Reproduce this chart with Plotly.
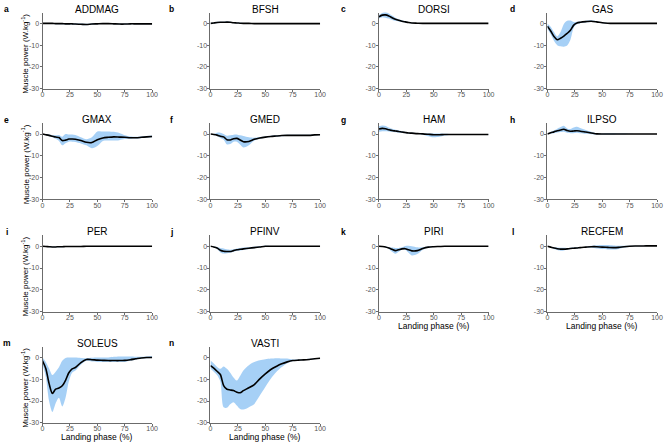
import plotly.graph_objects as go

# ---------------- data ----------------
phase = [0, 3, 6, 9, 12, 15, 18, 21, 24, 27, 30, 35, 40, 45, 50, 55, 60, 65, 70, 75, 80, 85, 90, 95, 100]

muscles = ["ADDMAG", "BFSH", "DORSI", "GAS", "GMAX", "GMED", "HAM", "ILPSO",
           "PER", "PFINV", "PIRI", "RECFEM", "SOLEUS", "VASTI"]
letters = ["a", "b", "c", "d", "e", "f", "g", "h", "i", "j", "k", "l", "m", "n"]

x_ticks = [0, 25, 50, 75, 100]
y_ticks = [0, -10, -20, -30]
y_ticklabels = ["0", "-10", "-20", "-30"]

ADDMAG_mean = [0, 0, 0, 0, -0.1, -0.1, -0.1, -0.2, -0.2, -0.2, -0.3, -0.4, -0.5, -0.3, -0.2, -0.1, -0.1, -0.2, -0.3, -0.3, -0.2, -0.2, -0.2, -0.2, -0.2]
ADDMAG_lo = [-0.2, -0.2, -0.2, -0.3, -0.4, -0.4, -0.4, -0.5, -0.5, -0.5, -0.6, -0.7, -0.8, -0.6, -0.4, -0.3, -0.3, -0.4, -0.5, -0.5, -0.4, -0.4, -0.4, -0.4, -0.4]
ADDMAG_hi = [0.2, 0.2, 0.2, 0.2, 0.2, 0.2, 0.2, 0.1, 0.1, 0.1, 0, -0.1, -0.2, 0, 0, 0.1, 0.1, 0, -0.1, -0.1, 0, 0, 0, 0, 0]

BFSH_mean = [0, 0.2, 0.4, 0.5, 0.5, 0.6, 0.5, 0.3, 0.2, 0.1, 0, 0, -0.1, -0.1, -0.1, -0.1, -0.1, -0.1, -0.1, -0.1, -0.1, -0.1, -0.1, -0.1, -0.1]
BFSH_lo = [-0.2, 0, 0.1, 0.2, 0.2, 0.3, 0.2, 0.1, 0, -0.1, -0.2, -0.2, -0.3, -0.3, -0.3, -0.3, -0.3, -0.3, -0.3, -0.3, -0.3, -0.3, -0.3, -0.3, -0.3]
BFSH_hi = [0.2, 0.4, 0.7, 0.8, 0.8, 0.9, 0.8, 0.6, 0.4, 0.3, 0.2, 0.2, 0.1, 0.1, 0.1, 0.1, 0.1, 0.1, 0.1, 0.1, 0.1, 0.1, 0.1, 0.1, 0.1]

DORSI_mean = [3.0, 3.8, 3.9, 3.4, 2.6, 1.9, 1.4, 1.0, 0.7, 0.4, 0.2, 0.1, 0, 0, 0, 0, 0, 0, 0, 0, 0, 0, 0, 0, 0]
DORSI_lo = [2.2, 2.8, 2.6, 2.2, 1.6, 1.2, 0.9, 0.6, 0.4, 0.2, 0.1, 0, -0.1, -0.1, -0.1, -0.1, -0.1, -0.1, -0.1, -0.1, -0.1, -0.1, -0.1, -0.1, -0.1]
DORSI_hi = [3.8, 4.8, 5.2, 4.6, 3.6, 2.6, 1.9, 1.4, 1.0, 0.6, 0.3, 0.2, 0.1, 0.1, 0.1, 0.1, 0.1, 0.1, 0.1, 0.1, 0.1, 0.1, 0.1, 0.1, 0.1]

GAS_mean = [-1.3, -3.5, -6.0, -7.5, -6.8, -5.8, -4.6, -3.2, -0.8, 0.2, 0.5, 0.8, 1.0, 0.7, 0.3, 0.1, 0, 0, 0, 0, 0, 0, 0, 0, 0]
GAS_lo = [-2.5, -5.0, -8.0, -10.0, -10.5, -10.7, -10.2, -7.5, -2.0, -0.3, 0.1, 0.4, 0.6, 0.4, 0.1, 0, -0.1, -0.1, -0.1, -0.1, -0.1, -0.1, -0.1, -0.1, -0.1]
GAS_hi = [0, -1.5, -4.0, -6.0, -4.0, -0.3, 1.2, 1.3, 0.6, 0.7, 0.9, 1.2, 1.4, 1.0, 0.5, 0.2, 0.1, 0.1, 0.1, 0.1, 0.1, 0.1, 0.1, 0.1, 0.1]

GMAX_mean = [0, -0.3, -0.6, -1.0, -1.4, -1.6, -3.0, -2.8, -2.3, -2.3, -2.4, -3.0, -3.8, -3.9, -2.6, -1.8, -1.5, -1.3, -1.4, -1.5, -1.7, -1.7, -1.5, -1.3, -1.1]
GMAX_lo = [0, -0.5, -1.0, -1.5, -2.2, -3.2, -5.2, -4.2, -3.5, -3.5, -3.6, -4.3, -5.2, -6.5, -5.5, -3.2, -3.0, -3.0, -2.8, -2.3, -2.2, -2.1, -1.9, -1.7, -1.5]
GMAX_hi = [0, -0.1, -0.2, -0.5, -0.6, -0.4, -1.2, 0, -0.2, -0.2, -0.4, -1.5, -2.4, -1.5, 1.2, 1.2, 1.2, 1.0, 0.5, -0.5, -1.1, -1.2, -1.1, -0.9, -0.7]

GMED_mean = [0, -0.2, -0.5, -1.0, -1.3, -2.6, -2.7, -2.2, -2.0, -2.7, -3.5, -3.4, -2.4, -1.8, -1.4, -1.1, -0.9, -0.7, -0.6, -0.6, -0.6, -0.6, -0.6, -0.4, -0.3]
GMED_lo = [0, -0.4, -0.8, -1.8, -2.6, -4.8, -4.6, -3.5, -3.5, -4.8, -6.2, -5.2, -3.0, -2.2, -1.7, -1.4, -1.2, -1.0, -0.9, -0.9, -0.9, -0.9, -0.8, -0.6, -0.4]
GMED_hi = [0, 0, 0.6, 0.6, 0, -0.8, -0.6, -0.3, -0.2, -0.6, -0.9, -1.5, -1.7, -1.4, -1.1, -0.8, -0.6, -0.4, -0.3, -0.3, -0.3, -0.3, -0.3, -0.2, -0.2]

HAM_mean = [2.3, 2.6, 2.4, 2.0, 1.6, 1.4, 1.2, 0.9, 0.7, 0.5, 0.4, 0.2, 0.1, -0.1, -0.3, -0.3, -0.2, -0.2, -0.2, -0.2, -0.2, -0.2, -0.2, -0.2, -0.2]
HAM_lo = [1.0, 1.3, 1.3, 1.2, 1.0, 0.8, 0.6, 0.5, 0.4, 0.3, 0.2, 0, -0.3, -1.0, -1.5, -1.3, -0.7, -0.4, -0.3, -0.3, -0.3, -0.3, -0.3, -0.3, -0.3]
HAM_hi = [3.6, 3.9, 3.7, 3.0, 2.4, 2.0, 1.8, 1.4, 1.0, 0.7, 0.6, 0.4, 0.3, 0.3, 0.3, 0.2, 0.1, 0, 0, 0, 0, 0, 0, 0, 0]

ILPSO_mean = [0, 0.6, 1.0, 1.5, 1.9, 2.2, 1.6, 1.3, 1.4, 1.5, 1.3, 0.9, 0.5, 0.1, 0, 0, 0, 0, 0, 0, 0, 0, 0, 0, 0]
ILPSO_lo = [0, 0.2, 0.4, 0.7, 0.9, 1.1, 0.6, 0.4, 0.4, 0.6, 0.4, 0.1, -0.1, -0.2, -0.2, -0.2, -0.2, -0.1, -0.1, 0, 0, 0, 0, 0, 0]
ILPSO_hi = [0, 1.0, 1.6, 2.4, 3.2, 3.8, 2.6, 2.3, 3.0, 3.4, 2.8, 1.9, 1.1, 0.4, 0.3, 0.4, 0.4, 0.3, 0.2, 0.1, 0, 0, 0, 0, 0]

PER_mean = [0, -0.1, -0.2, -0.3, -0.3, -0.2, -0.2, -0.1, -0.1, -0.1, -0.1, -0.1, 0, 0, 0, 0, 0, 0, 0, 0, 0, 0, 0, 0, 0]
PER_lo = [-0.1, -0.3, -0.4, -0.5, -0.5, -0.4, -0.4, -0.3, -0.3, -0.2, -0.2, -0.2, -0.1, -0.1, -0.1, -0.1, -0.1, -0.1, -0.1, -0.1, -0.1, -0.1, -0.1, -0.1, -0.1]
PER_hi = [0.1, 0.1, 0, -0.1, -0.1, 0, 0, 0.1, 0.1, 0, 0, 0, 0.1, 0.1, 0.1, 0.1, 0.1, 0.1, 0.1, 0.1, 0.1, 0.1, 0.1, 0.1, 0.1]

PFINV_mean = [0, -0.3, -0.8, -1.8, -2.3, -2.4, -2.4, -2.0, -1.6, -1.4, -1.2, -0.9, -0.6, -0.3, 0, 0, 0, 0, 0, 0, 0, 0, 0, 0, 0]
PFINV_lo = [0, -0.5, -1.3, -2.8, -3.3, -3.2, -3.0, -2.5, -2.1, -1.9, -1.7, -1.3, -0.9, -0.5, -0.2, -0.1, -0.1, -0.1, -0.1, -0.1, -0.1, -0.1, -0.1, -0.1, -0.1]
PFINV_hi = [0, -0.1, -0.3, -0.8, -1.0, -1.4, -1.6, -1.4, -1.0, -0.8, -0.6, -0.4, -0.2, 0, 0.2, 0.1, 0.1, 0.1, 0.1, 0.1, 0.1, 0.1, 0.1, 0.1, 0.1]

PIRI_mean = [0, -0.1, -0.3, -0.8, -1.4, -2.0, -1.6, -1.2, -1.1, -1.6, -2.1, -2.0, -1.0, -0.4, -0.2, -0.1, 0, 0, 0, 0, 0, 0, 0, 0, 0]
PIRI_lo = [0, -0.2, -0.5, -1.2, -2.5, -3.4, -2.5, -1.6, -1.6, -3.0, -4.2, -3.6, -1.6, -0.7, -0.3, -0.1, -0.1, -0.1, -0.1, -0.1, -0.1, -0.1, -0.1, -0.1, -0.1]
PIRI_hi = [0, 0, -0.1, -0.4, -0.6, -0.8, -0.8, -0.5, 0.1, 0.2, 0, -0.5, -0.4, -0.1, 0, 0, 0.1, 0.1, 0.1, 0.1, 0.1, 0.1, 0.1, 0.1, 0.1]

RECFEM_mean = [0, -0.4, -0.8, -1.1, -1.3, -1.3, -1.2, -1.0, -0.9, -0.8, -0.6, -0.4, -0.2, -0.2, -0.4, -0.5, -0.6, -0.5, -0.2, 0, 0.1, 0.1, 0.2, 0.2, 0.2]
RECFEM_lo = [0, -0.6, -1.2, -1.7, -2.0, -1.9, -1.6, -1.3, -1.1, -1.0, -0.8, -0.6, -0.6, -1.0, -1.3, -1.5, -1.5, -1.2, -0.6, -0.2, 0, 0, 0.1, 0.1, 0.1]
RECFEM_hi = [0, -0.2, -0.4, -0.6, -0.7, -0.7, -0.8, -0.7, -0.6, -0.5, -0.4, -0.2, 0.2, 0.5, 0.6, 0.6, 0.4, 0.2, 0.2, 0.2, 0.2, 0.2, 0.3, 0.3, 0.3]

SOLEUS_mean = [-1.5, -5.0, -12.0, -16.5, -14.5, -14.0, -13.0, -10.5, -7.0, -5.2, -4.6, -2.3, -0.9, -1.0, -1.2, -1.3, -1.4, -1.4, -1.4, -1.3, -1.0, -0.6, -0.2, 0, 0]
SOLEUS_lo = [-3.0, -9.0, -20.0, -25.0, -21.0, -18.5, -22.5, -18.5, -11.0, -7.0, -6.0, -3.3, -1.5, -1.8, -2.0, -2.0, -2.0, -2.0, -2.0, -2.0, -1.5, -1.0, -0.5, -0.3, -0.2]
SOLEUS_hi = [0, -2.0, -5.0, -8.0, -6.5, -4.5, -1.5, -0.2, 0, 0, 0, -0.2, -0.3, -0.1, 0, 0, 0, 0.3, 0.5, 0.5, 0.5, 0.4, 0.3, 0.5, 0.7]

VASTI_mean = [-3.7, -4.9, -6.3, -7.8, -12.9, -14.6, -14.9, -15.2, -15.9, -16.2, -15.2, -13.9, -12.4, -9.8, -7.5, -5.5, -4.1, -2.9, -2.0, -1.4, -1.2, -1.1, -0.9, -0.6, -0.3]
VASTI_lo = [-5.2, -6.5, -8.0, -11.0, -22.8, -23.1, -21.5, -20.5, -22.0, -23.6, -23.9, -22.8, -21.3, -17.5, -13.6, -9.8, -6.7, -4.4, -2.6, -1.7, -1.4, -1.2, -1.0, -0.8, -0.6]
VASTI_hi = [-1.4, -2.8, -4.3, -5.2, -4.1, -5.2, -7.0, -9.2, -10.6, -8.5, -6.0, -3.5, -2.1, -1.3, -0.8, -0.5, -0.3, -0.4, -0.5, -0.9, -0.9, -0.8, -0.6, -0.4, -0.2]

means = [ADDMAG_mean, BFSH_mean, DORSI_mean, GAS_mean, GMAX_mean, GMED_mean, HAM_mean,
         ILPSO_mean, PER_mean, PFINV_mean, PIRI_mean, RECFEM_mean, SOLEUS_mean, VASTI_mean]
lows = [ADDMAG_lo, BFSH_lo, DORSI_lo, GAS_lo, GMAX_lo, GMED_lo, HAM_lo,
        ILPSO_lo, PER_lo, PFINV_lo, PIRI_lo, RECFEM_lo, SOLEUS_lo, VASTI_lo]
highs = [ADDMAG_hi, BFSH_hi, DORSI_hi, GAS_hi, GMAX_hi, GMED_hi, HAM_hi,
         ILPSO_hi, PER_hi, PFINV_hi, PIRI_hi, RECFEM_hi, SOLEUS_hi, VASTI_hi]

# ---------------- layout geometry ----------------
W, H = 669, 443
col_left = [41, 211, 381.5, 552]
panel_w = 111
row_bottom = [89.3, 200.7, 313.7, 425.7]
panel_h = 76.7
FONT = "Liberation Sans, Arial, sans-serif"
AXCOL = "#6b6b6b"
FILL = "rgba(150,200,245,0.85)"

fig = go.Figure()
layout = dict(
    width=W, height=H, margin=dict(l=0, r=0, t=0, b=0),
    paper_bgcolor="white", plot_bgcolor="white", showlegend=False,
    font=dict(family=FONT, color="black"),
)
annotations = []

x_title_panels = {"PIRI", "RECFEM", "SOLEUS", "VASTI"}

for i, name in enumerate(muscles):
    r, c = divmod(i, 4)
    k = i + 1
    xa = "x" if k == 1 else f"x{k}"
    ya = "y" if k == 1 else f"y{k}"
    left = col_left[c]
    bot = row_bottom[r]
    top = bot - panel_h
    xd = [left / W, (left + panel_w) / W]
    yd = [1 - bot / H, 1 - top / H]

    fig.add_trace(go.Scatter(x=phase, y=highs[i], mode="lines", line=dict(width=0, shape="spline", smoothing=0.8),
                             xaxis=xa, yaxis=ya, hoverinfo="skip"))
    fig.add_trace(go.Scatter(x=phase, y=lows[i], mode="lines", line=dict(width=0, shape="spline", smoothing=0.8),
                             fill="tonexty", fillcolor=FILL, xaxis=xa, yaxis=ya, hoverinfo="skip"))
    fig.add_trace(go.Scatter(x=phase, y=means[i], mode="lines",
                             line=dict(color="black", width=1.6, shape="spline", smoothing=0.8),
                             xaxis=xa, yaxis=ya))

    axcommon = dict(showline=True, linecolor=AXCOL, linewidth=1, ticks="outside", ticklen=2,
                    tickcolor=AXCOL, tickwidth=1, tickfont=dict(size=7, color="#555555", family=FONT),
                    showgrid=False, zeroline=False, fixedrange=True)
    layout["xaxis" if k == 1 else f"xaxis{k}"] = dict(
        domain=xd, range=[0, 100], tickvals=x_ticks, anchor=ya, ticklabelstandoff=-3, **axcommon)
    layout["yaxis" if k == 1 else f"yaxis{k}"] = dict(
        domain=yd, range=[-30, 5], tickvals=y_ticks, ticktext=y_ticklabels, anchor=xa,
        ticklabelstandoff=-1, **axcommon)

    cx = (left + panel_w / 2) / W
    ty = 1 - (top - 3.5) / H
    annotations.append(dict(text=name, x=cx, y=ty, xref="paper", yref="paper", xanchor="center",
                            yanchor="middle", showarrow=False, font=dict(size=10, color="black", family=FONT)))
    lx = [5, 172, 346, 517][c]
    annotations.append(dict(text=f"<b>{letters[i]}</b>", x=lx / W, y=ty, xref="paper", yref="paper",
                            xanchor="center", yanchor="middle", showarrow=False,
                            font=dict(size=8.5, color="black", family=FONT)))
    if c == 0:
        annotations.append(dict(text="Muscle power (W.kg<sup>-1</sup>)", x=23 / W, y=1 - (bot - 35) / H,
                                xref="paper", yref="paper", xanchor="center", yanchor="middle",
                                textangle=-90, showarrow=False, font=dict(size=8, color="black", family=FONT)))
    if name in x_title_panels:
        annotations.append(dict(text="Landing phase (%)", x=cx, y=1 - (bot + 14.5) / H,
                                xref="paper", yref="paper", xanchor="center", yanchor="middle",
                                showarrow=False, font=dict(size=8.5, color="black", family=FONT)))

layout["annotations"] = annotations
fig.update_layout(**layout)
fig.write_html("out.html",
               config={"displayModeBar": False},
               post_script="document.body.style.margin='0';document.body.style.padding='0';"
                           "document.body.style.overflow='hidden';")
